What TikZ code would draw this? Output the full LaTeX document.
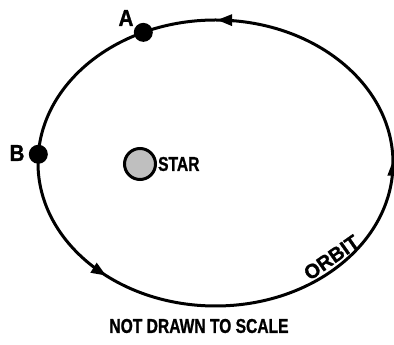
\documentclass[tikz,border=0pt]{standalone}
\usepackage{fontspec}
\setmainfont{Liberation Sans}
\newfontfamily\heavyfont[FakeBold=1.2]{Liberation Sans Bold}
\usetikzlibrary{arrows.meta}
\tikzset{
  orbitline/.style={line width=3pt, black},
  orbitarrow/.style={line width=3pt, -{Triangle[length=15pt,width=11pt]}},
  planet/.style={circle, fill=black, inner sep=0pt, minimum size=19pt},
  lbl/.style={font=\heavyfont\fontsize{23}{23}\selectfont, inner sep=0pt, xscale=0.9, transform shape},
  txt/.style={font=\heavyfont\fontsize{20}{20}\selectfont, inner sep=0pt, xscale=0.78, transform shape},
}
\begin{document}
\begin{tikzpicture}[x=1pt,y=1pt]
\useasboundingbox (0,0) rectangle (394,345);
\coordinate (O) at (215.5,182);
\begin{scope}[shift={(O)}]
  \draw[orbitline] (0,0) ellipse [x radius=177.5, y radius=143];
  % arrows along orbit (counterclockwise)
  \draw[orbitarrow] (-5:177.5 and 143) arc[start angle=-5, end angle=1, x radius=177.5, y radius=143];
  \draw[orbitarrow] (84:177.5 and 143) arc[start angle=84, end angle=89.5, x radius=177.5, y radius=143];
  \draw[orbitarrow] (227:177.5 and 143) arc[start angle=227, end angle=232, x radius=177.5, y radius=143];
  % planets
  \node[planet] (A) at (114:177.5 and 143) {};
  \node[planet] (B) at (176.5:177.5 and 143) {};
\end{scope}
% orbit label
\node[font=\heavyfont\fontsize{20}{20}\selectfont, inner sep=0pt, rotate=35] (orbitlbl) at (331.5,87.5) {ORBIT};
\node[lbl] (Alab) at (126,327) {A};
\node[lbl] (Blab) at (17,192) {B};
\node[circle, draw=black, line width=3pt, fill=black!25, minimum size=31pt, inner sep=0pt] (star) at (140,181) {};
\node[txt, anchor=west] (starlab) at (158,181) {STAR};
\node[txt] (note) at (199,19) {NOT DRAWN TO SCALE};
\end{tikzpicture}
\end{document}
